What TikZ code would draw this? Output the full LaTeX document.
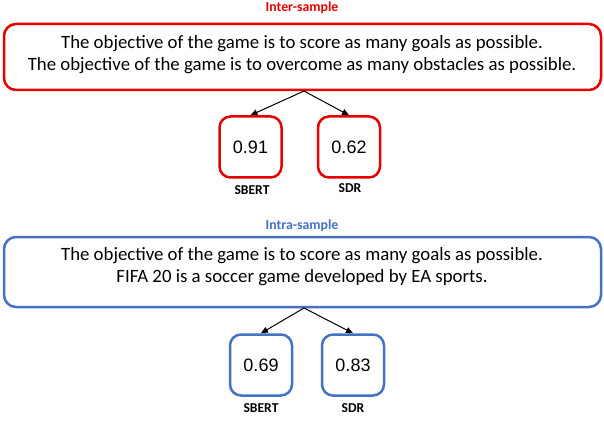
\documentclass[tikz,border=0pt]{standalone}
\usepackage{fontspec}
\setmainfont{Carlito}
\newfontfamily\numfont{Liberation Sans}
\usetikzlibrary{arrows.meta}
\definecolor{myred}{RGB}{230,0,0}
\definecolor{myblue}{RGB}{68,114,196}
\begin{document}
\begin{tikzpicture}[x=1pt,y=-1pt,
  bigbox/.style={draw,line width=2.5pt,rounded corners=12pt},
  smallbox/.style={draw,line width=2.5pt,rounded corners=11pt,minimum width=62pt,minimum height=61pt,font=\numfont\fontsize{18}{21}\selectfont,inner sep=0pt},
  title/.style={font=\bfseries\fontsize{13.8}{15}\selectfont},
  lab/.style={font=\bfseries\fontsize{13.6}{15}\selectfont},
  sent/.style={font=\fontsize{18.8}{21}\selectfont},
  arr/.style={-{Triangle[length=7pt,width=6pt]},line width=1pt}]
\useasboundingbox (0,0) rectangle (604,446);
% top
\node[title,text=myred] (t1) at (302,8) {Inter-sample};
\draw[bigbox,myred] (4,24) rectangle (601,90);
\node[sent] (s1) at (302,44) {The objective of the game is to score as many goals as possible.};
\node[sent] (s2) at (302,66) {The objective of the game is to overcome as many obstacles as possible.};
\coordinate (a1) at (304,91);
\node[smallbox,myred,text=black] (b1) at (250.5,147) {0.91};
\node[smallbox,myred,text=black] (b2) at (349,147) {0.62};
\node[lab] (l1) at (252,190) {SBERT};
\node[lab] (l2) at (350,188) {SDR};
\draw[arr] (a1) -- (b1.north);
\draw[arr] (a1) -- (b2.north);
% bottom
\node[title,text=myblue] (t2) at (302,226) {Intra-sample};
\draw[bigbox,myblue] (4,237) rectangle (601,307);
\node[sent] (s3) at (302,256) {The objective of the game is to score as many goals as possible.};
\node[sent] (s4) at (302,278) {FIFA 20 is a soccer game developed by EA sports.};
\coordinate (a2) at (304,308);
\node[smallbox,myblue,text=black] (b3) at (261,365) {0.69};
\node[smallbox,myblue,text=black] (b4) at (353,365) {0.83};
\node[lab] (l3) at (261,408) {SBERT};
\node[lab] (l4) at (353,408) {SDR};
\draw[arr] (a2) -- (b3.north);
\draw[arr] (a2) -- (b4.north);
\end{tikzpicture}
\end{document}
